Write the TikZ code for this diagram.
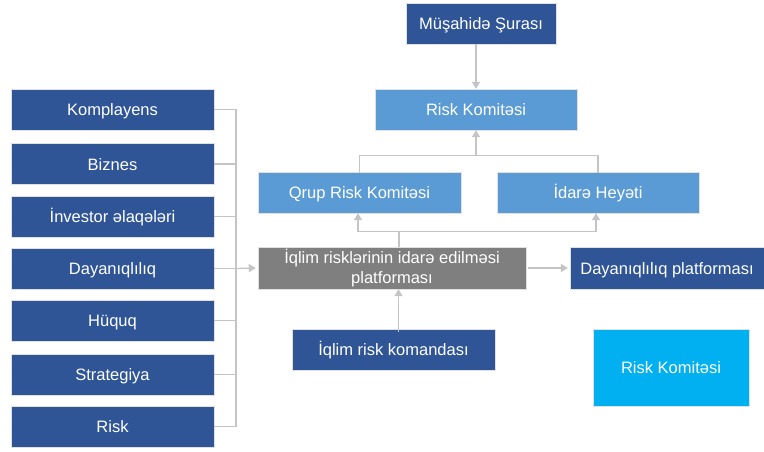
\documentclass[tikz,border=0pt]{standalone}
\usepackage{fontspec}
\setmainfont{Liberation Sans}
\usetikzlibrary{arrows.meta}
\definecolor{OrgDark}{HTML}{2F5597}
\definecolor{OrgLight}{HTML}{5B9BD5}
\definecolor{OrgGray}{HTML}{7F7F7F}
\definecolor{OrgCyan}{HTML}{00B0F0}
\definecolor{OrgLine}{HTML}{C4C4C4}
\tikzset{
  box/.style={draw=white!88!black,line width=0.4pt,text=white,align=center,
    inner sep=0pt,minimum height=41,font=\fontsize{16.5}{20}\selectfont},
  oneline/.style={box,text height=12pt,text depth=0pt},
  darkbox/.style={oneline,fill=OrgDark},
  lightbox/.style={oneline,fill=OrgLight},
  link/.style={draw=OrgLine,line width=1.3pt},
  linkarrow/.style={link,-{Triangle[length=7pt,width=8pt]}}
}

\begin{document}
\begin{tikzpicture}[x=1pt,y=-1pt]
    \useasboundingbox (0,0) rectangle (764,451);

    % Top of the chart
    \node[darkbox,minimum width=150] (musahide) at (481,23.5) {Müşahidə Şurası};
    \node[lightbox,minimum width=202] (riskkom) at (476,109.5) {Risk Komitəsi};
    \node[lightbox,minimum width=203] (qrup) at (359.5,192.5) {Qrup Risk Komitəsi};
    \node[lightbox,minimum width=202] (idare) at (598,192.5) {İdarə Heyəti};

    % Middle row
    \node[box,fill=OrgGray,minimum width=268,minimum height=42] (platf) at (392,268)
      {İqlim risklərinin idarə edilməsi\\platforması};
    \node[darkbox,minimum width=194,minimum height=42] (dayplat) at (667,268)
      {Dayanıqlılıq platforması};
    \node[darkbox,minimum width=203] (komanda) at (393.5,349.5) {İqlim risk komandası};
    \node[oneline,fill=OrgCyan,minimum width=156,minimum height=77] (riskcyan) at (671,367.5)
      {Risk Komitəsi};

    % Departments
    \foreach \name/\yy/\txt in {komp/109.5/Komplayens, biznes/164/Biznes,
        investor/216.5/İnvestor əlaqələri, dayan/268.5/Dayanıqlılıq,
        huquq/320.5/Hüquq, strat/374.5/Strategiya, risk/426.5/Risk}
      \node[darkbox,minimum width=203] (\name) at (112.5,\yy) {\txt};

    % Connectors
    \coordinate (brk) at (236,0);
    \draw[link] (komp.east) -| (risk.east -| brk) -- (risk.east);
    \foreach \name in {biznes,investor,dayan,huquq,strat}
      \draw[link] (\name.east) -- (\name.east -| brk);
    \draw[linkarrow] (dayan.east -| brk) -- ([xshift=-2pt]platf.west);

    \draw[linkarrow] (riskkom.north |- musahide.south) -- (riskkom.north);
    \draw[link] ([yshift=-1pt]qrup.north) -- ++(0,-17.5) coordinate (topJ)
      -| ([yshift=-1pt]idare.north);
    \draw[linkarrow] (riskkom.south |- topJ) -- (riskkom.south);

    \draw[link] ([xshift=7pt]platf.north) -- ++(0,-15) coordinate (midJ);
    \draw[linkarrow] (midJ) -| ([xshift=-1.5pt]qrup.south);
    \draw[linkarrow] (midJ) -| ([xshift=-2pt]idare.south);

    \draw[linkarrow] ([xshift=2pt]platf.east) -- ([xshift=-2pt]dayplat.west);
    \draw[linkarrow] ([xshift=5pt,yshift=-3pt]komanda.north) -- ([xshift=5pt]komanda.north |- platf.south);

\end{tikzpicture}
\end{document}
